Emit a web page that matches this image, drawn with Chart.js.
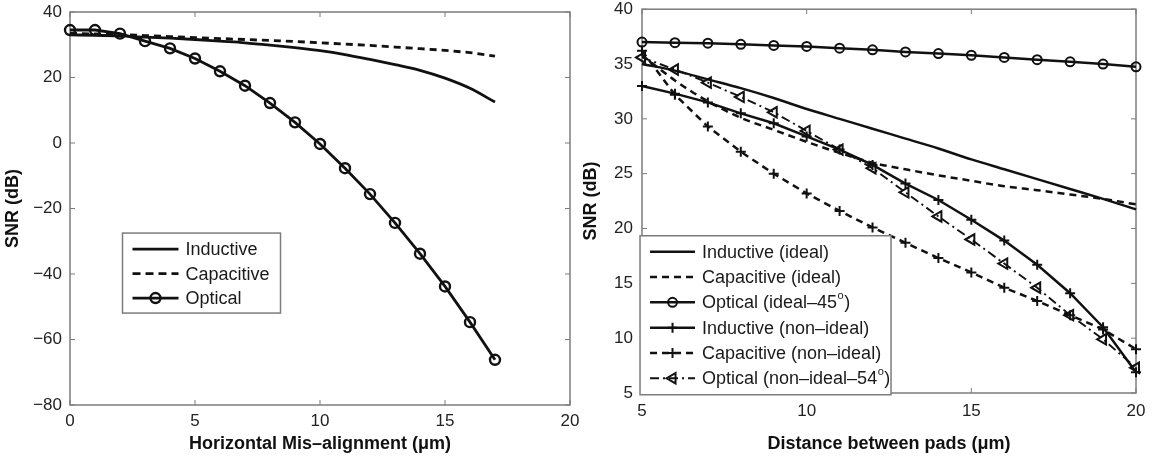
<!DOCTYPE html>
<html>
<head>
<meta charset="utf-8">
<script src="https://cdn.jsdelivr.net/npm/chart.js@4.4.1/dist/chart.umd.min.js"></script>
<style>
  html, body { margin: 0; padding: 0; background: #fff; }
  body { width: 1156px; height: 457px; position: relative; overflow: hidden; }
  .box { position: absolute; top: -10px; }
</style>
</head>
<body>
<div class="box" style="left:0"><canvas id="leftChart" width="600" height="467"></canvas></div>
<div class="box" style="left:578px"><canvas id="rightChart" width="578" height="467"></canvas></div>
<script>
// left panel: SNR vs horizontal misalignment
const misalign = [0, 1, 2, 3, 4, 5, 6, 7, 8, 9, 10, 11, 12, 13, 14, 15, 16, 17];
const leftInductive = [33.0, 32.9, 32.7, 32.3, 32.0, 31.6, 31.1, 30.6, 29.9, 29.1, 28.2, 27.0, 25.5, 23.9, 22.2, 19.8, 16.7, 12.5];
const leftCapacitive = [33.5, 33.3, 33.1, 32.8, 32.5, 32.2, 31.9, 31.6, 31.3, 31.0, 30.6, 30.2, 29.8, 29.3, 28.8, 28.3, 27.6, 26.5];
const leftOptical = [34.5, 34.5, 33.4, 31.1, 28.9, 25.8, 21.9, 17.5, 12.2, 6.3, -0.3, -7.7, -15.6, -24.4, -33.8, -43.8, -54.7, -66.2];
const leftXTicks = [0, 20, 5];   // min, max, step
const leftYTicks = [-80, 40, 20];

// right panel: SNR vs distance between pads
const pads = [5, 6, 7, 8, 9, 10, 11, 12, 13, 14, 15, 16, 17, 18, 19, 20];
const indIdeal = [35.0, 34.4, 33.6, 32.8, 31.9, 30.9, 30.0, 29.1, 28.2, 27.3, 26.3, 25.4, 24.5, 23.6, 22.7, 21.75];
const capIdeal = [35.8, 33.5, 31.6, 30.1, 29.0, 27.9, 26.9, 26.0, 25.4, 24.85, 24.35, 23.85, 23.5, 23.1, 22.7, 22.2];
const optIdeal = [37.0, 36.95, 36.9, 36.8, 36.7, 36.6, 36.45, 36.3, 36.1, 35.95, 35.8, 35.6, 35.4, 35.2, 35.0, 34.75];
const indNonIdeal = [33.0, 32.3, 31.5, 30.5, 29.6, 28.4, 27.2, 25.8, 24.1, 22.6, 20.8, 18.9, 16.7, 14.1, 11.0, 6.9];
const capNonIdeal = [36.2, 32.2, 29.3, 27.0, 25.0, 23.2, 21.6, 20.1, 18.7, 17.3, 16.0, 14.6, 13.4, 12.1, 10.8, 9.0];
const optNonIdeal = [35.6, 34.5, 33.3, 32.0, 30.6, 28.9, 27.2, 25.5, 23.3, 21.1, 19.0, 16.8, 14.6, 12.1, 9.9, 7.3];
const rightXTicks = [5, 20, 5];
const rightYTicks = [5, 40, 5];

const FONT = "'Liberation Sans', Arial, Helvetica, sans-serif";
const INK = "#111";

function pts(xs, ys) {
  return xs.map((x, i) => ({ x: x, y: ys[i] }));
}

function fmt(v) {
  return v < 0 ? "\u2212" + Math.abs(v) : String(v);
}

function axis(range, title, tickPad, size, pos) {
  return {
    type: "linear",
    position: pos,
    min: range[0],
    max: range[1],
    ticks: { stepSize: range[2], padding: tickPad, color: "#222", font: { family: FONT, size: 17 }, callback: fmt, maxRotation: 0, autoSkip: false },
    grid: { display: false, drawTicks: false },
    border: { display: false },
    title: { display: true, text: title, color: INK, font: { family: FONT, size: 18, weight: "bold" }, padding: { top: 2, bottom: 2 } },
    afterFit: function (s) {
      if (pos === "left") s.width = size; else s.height = size;
    }
  };
}

// draws "45°" style labels with a raised small "o"
function drawLabel(ctx, text, x, y, size, draw) {
  const parts = text.split("\u00b0");
  let w = 0;
  parts.forEach((p, i) => {
    ctx.font = size + "px " + FONT;
    if (draw) ctx.fillText(p, x + w, y);
    w += ctx.measureText(p).width;
    if (i < parts.length - 1) {
      ctx.font = Math.round(size * 0.62) + "px " + FONT;
      if (draw) ctx.fillText("o", x + w + 0.5, y - size * 0.42);
      w += ctx.measureText("o").width + 1;
    }
  });
  return w;
}

const framePlugin = {
  id: "frame",
  beforeDatasetsDraw(chart) {
    const ctx = chart.ctx, a = chart.chartArea, sx = chart.scales.x, sy = chart.scales.y;
    ctx.save();
    ctx.strokeStyle = "#7c7c7c";
    ctx.lineWidth = 1.5;
    ctx.strokeRect(a.left, a.top, a.right - a.left, a.bottom - a.top);
    ctx.lineWidth = 1;
    ctx.beginPath();
    sx.ticks.forEach(t => {
      const p = sx.getPixelForValue(t.value);
      ctx.moveTo(p, a.bottom); ctx.lineTo(p, a.bottom - 5);
      ctx.moveTo(p, a.top); ctx.lineTo(p, a.top + 5);
    });
    sy.ticks.forEach(t => {
      const p = sy.getPixelForValue(t.value);
      ctx.moveTo(a.left, p); ctx.lineTo(a.left + 5, p);
      ctx.moveTo(a.right, p); ctx.lineTo(a.right - 5, p);
    });
    ctx.stroke();
    ctx.restore();
  },
  afterDraw(chart) {
    const lg = chart.options.plugins.boxLegend;
    if (!lg) return;
    const ctx = chart.ctx;
    const x0 = chart.scales.x.getPixelForValue(lg.x);
    const y0 = chart.scales.y.getPixelForValue(lg.y);
    ctx.save();
    ctx.fillStyle = "#fff";
    ctx.fillRect(x0, y0, lg.w, lg.h);
    ctx.strokeStyle = "#7c7c7c";
    ctx.lineWidth = 1.5;
    ctx.strokeRect(x0, y0, lg.w, lg.h);
    chart.data.datasets.forEach((ds, i) => {
      const y = y0 + lg.first + i * lg.gap;
      const xs = x0 + 10, xe = x0 + 10 + lg.sample;
      ctx.strokeStyle = INK;
      ctx.lineWidth = ds.borderWidth;
      ctx.setLineDash(ds.legendDash || ds.borderDash || []);
      ctx.beginPath();
      ctx.moveTo(xs, y); ctx.lineTo(xe, y);
      ctx.stroke();
      ctx.setLineDash([]);
      if (ds.pointRadius > 0) {
        ctx.fillStyle = "rgba(0,0,0,0)";
        ctx.lineWidth = ds.pointBorderWidth;
        Chart.helpers.drawPoint(ctx, { pointStyle: ds.pointStyle, radius: ds.pointRadius, rotation: ds.pointRotation || 0, borderWidth: ds.pointBorderWidth }, (xs + xe) / 2, y);
      }
      ctx.fillStyle = "#1a1a1a";
      ctx.textBaseline = "middle";
      drawLabel(ctx, ds.label, x0 + lg.text, y + 1, lg.size, true);
    });
    ctx.restore();
  }
};

function line(label, xs, ys, opts) {
  return Object.assign({
    label: label,
    data: pts(xs, ys),
    borderColor: INK,
    backgroundColor: "rgba(0,0,0,0)",
    pointBorderColor: INK,
    pointBackgroundColor: "rgba(0,0,0,0)",
    pointRadius: 0,
    pointBorderWidth: 2,
    tension: 0,
    clip: false
  }, opts);
}

new Chart(document.getElementById("leftChart"), {
  type: "line",
  data: {
    datasets: [
      line("Inductive", misalign, leftInductive, { borderWidth: 2.8, cubicInterpolationMode: "monotone" }),
      line("Capacitive", misalign, leftCapacitive, { borderWidth: 2.8, borderDash: [7, 5], legendDash: [8, 5] }),
      line("Optical", misalign, leftOptical, { borderWidth: 2.8, pointStyle: "circle", pointRadius: 5, pointBorderWidth: 2.4 })
    ]
  },
  options: {
    responsive: false,
    animation: false,
    layout: { padding: { top: 22, right: 30, left: 0, bottom: 0 } },
    scales: {
      x: axis(leftXTicks, "Horizontal Mis\u2013alignment (\u03bcm)", 6, 52, "bottom"),
      y: axis(leftYTicks, "SNR (dB)", 8, 70, "left")
    },
    plugins: {
      legend: { display: false },
      tooltip: { enabled: false },
      boxLegend: { x: 2.1, y: -27.5, w: 158, h: 80, first: 16, gap: 24.5, sample: 46, text: 63, size: 18 }
    }
  },
  plugins: [framePlugin]
});

new Chart(document.getElementById("rightChart"), {
  type: "line",
  data: {
    datasets: [
      line("Inductive (ideal)", pads, indIdeal, { borderWidth: 2.5, cubicInterpolationMode: "monotone" }),
      line("Capacitive (ideal)", pads, capIdeal, { borderWidth: 2.5, borderDash: [7, 5], cubicInterpolationMode: "monotone" }),
      line("Optical (ideal\u201345\u00b0)", pads, optIdeal, { borderWidth: 2.5, pointStyle: "circle", pointRadius: 4.5, pointBorderWidth: 2 }),
      line("Inductive (non\u2013ideal)", pads, indNonIdeal, { borderWidth: 2.5, pointStyle: "cross", pointRadius: 5, pointBorderWidth: 2 }),
      line("Capacitive (non\u2013ideal)", pads, capNonIdeal, { borderWidth: 2.5, borderDash: [7, 5], pointStyle: "cross", pointRadius: 5, pointBorderWidth: 2 }),
      line("Optical (non\u2013ideal\u201354\u00b0)", pads, optNonIdeal, { borderWidth: 1.9, borderDash: [9, 4, 2, 4], pointStyle: "triangle", pointRotation: 270, pointRadius: 6, pointBorderWidth: 2 })
    ]
  },
  options: {
    responsive: false,
    animation: false,
    layout: { padding: { top: 16, right: 20, left: 0, bottom: 0 } },
    scales: {
      x: axis(rightXTicks, "Distance between pads (\u03bcm)", 8, 64, "bottom"),
      y: axis(rightYTicks, "SNR (dB)", 9, 64, "left")
    },
    plugins: {
      legend: { display: false },
      tooltip: { enabled: false },
      boxLegend: { x: 4.94, y: 19.34, w: 251, h: 159, first: 16, gap: 25.3, sample: 45, text: 62, size: 18 }
    }
  },
  plugins: [framePlugin]
});
</script>
</body>
</html>
